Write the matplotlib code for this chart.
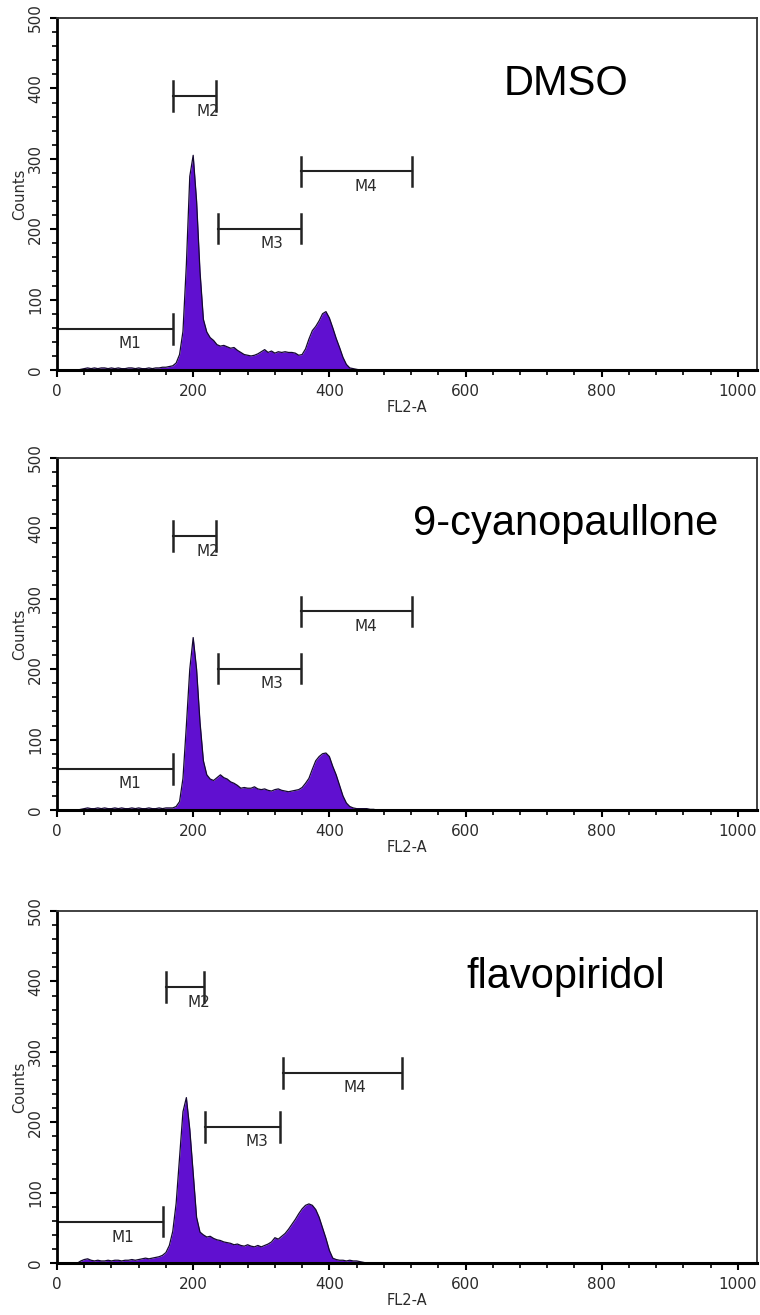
import numpy as np
import matplotlib
matplotlib.use("Agg")
import matplotlib.pyplot as plt
from matplotlib.ticker import MultipleLocator

# FL2-A channel of each value (5-channel steps)
channels = np.arange(0, 485, 5)

dmso = [0, 0, 0, 0, 0, 0, 0, 1, 2, 3, 2, 3, 2, 3, 3, 2, 3, 2, 3, 2,
        2, 3, 3, 2, 3, 2, 2, 3, 2, 3, 3, 4, 4, 5, 6, 10, 22, 55, 150, 275,
        305, 240, 140, 72, 54, 46, 42, 36, 34, 35, 33, 31, 32, 28, 25, 22, 21, 20, 21, 23,
        26, 29, 25, 27, 24, 26, 25, 26, 25, 25, 24, 21, 22, 30, 44, 56, 62, 70, 80, 83,
        74, 60, 45, 32, 18, 8, 3, 2, 1, 0, 0, 0, 0, 0, 0, 0, 0]

cyano = [0, 0, 0, 0, 0, 0, 0, 1, 2, 3, 2, 2, 3, 2, 3, 2, 2, 3, 2, 3,
         2, 2, 3, 2, 3, 2, 2, 3, 2, 2, 3, 2, 3, 3, 3, 5, 12, 45, 120, 200,
         245, 200, 125, 70, 50, 44, 42, 46, 50, 46, 44, 40, 38, 35, 31, 32, 31, 31, 33, 30,
         29, 30, 28, 27, 29, 30, 28, 27, 26, 27, 28, 29, 32, 38, 45, 58, 70, 76, 80, 81,
         76, 62, 50, 35, 20, 10, 5, 3, 2, 2, 2, 2, 1, 1, 0, 0, 0]

flavo = [0, 0, 0, 0, 0, 0, 0, 3, 5, 6, 4, 3, 4, 3, 3, 4, 3, 4, 4, 3,
         4, 4, 5, 4, 5, 6, 7, 6, 7, 8, 9, 11, 15, 25, 45, 85, 150, 215, 235, 190,
         128, 65, 44, 40, 37, 38, 35, 33, 32, 30, 29, 28, 26, 27, 25, 24, 26, 24, 23, 25,
         23, 25, 27, 30, 36, 34, 38, 42, 48, 55, 62, 70, 77, 82, 84, 82, 76, 65, 50, 35,
         18, 7, 5, 4, 4, 3, 4, 3, 3, 2, 1, 0, 0, 0, 0, 0, 0]

treatments = ["DMSO", "9-cyanopaullone", "flavopiridol"]
series = [dmso, cyano, flavo]

# marker gates per panel: start, end, bar height, label x, label y
gate_names = ["M1", "M2", "M3", "M4"]
gate_start = [[0, 170, 236, 358], [0, 170, 236, 358], [0, 160, 218, 332]]
gate_end = [[170, 233, 358, 522], [170, 233, 358, 522], [156, 216, 328, 506]]
gate_y = [[58, 389, 201, 282], [58, 389, 201, 282], [59, 392, 193, 270]]
label_x = [[107, 222, 315, 453], [107, 222, 315, 453], [97, 209, 293, 438]]
label_y = [[38, 367, 180, 260], [38, 367, 180, 260], [37, 370, 172, 249]]

fill_col = "#6010d0"
ink = "#2b2b2b"

fig = plt.figure(figsize=(7.6, 13.15), dpi=100)
bottoms = [0.7186, 0.3840, 0.0395]

for i in range(3):
    ax = fig.add_axes([0.075, bottoms[i], 0.921, 0.2677])
    ax.fill_between(channels, series[i], 0, color=fill_col, lw=0)
    ax.plot(channels, series[i], color="#140830", lw=0.9)

    for k in range(4):
        x0, x1, y = gate_start[i][k], gate_end[i][k], gate_y[i][k]
        ax.plot([x0, x1], [y, y], color="#222222", lw=1.5)
        ax.plot([x0, x0], [y - 21, y + 21], color="#222222", lw=1.8)
        ax.plot([x1, x1], [y - 21, y + 21], color="#222222", lw=1.8)
        ax.text(label_x[i][k], label_y[i][k], gate_names[k], ha="center", va="center",
                fontsize=11, color=ink)

    ax.text(747, 390, treatments[i], ha="center", va="baseline", fontsize=30,
            family=["Liberation Sans", "DejaVu Sans"], color="black")

    ax.set_xlim(0, 1028)
    ax.set_ylim(0, 500)
    ax.xaxis.set_major_locator(MultipleLocator(200))
    ax.xaxis.set_minor_locator(MultipleLocator(40))
    ax.yaxis.set_major_locator(MultipleLocator(100))
    ax.yaxis.set_minor_locator(MultipleLocator(20))
    ax.tick_params(which="major", length=5, width=1.5, direction="out", labelsize=11,
                   labelcolor=ink, pad=5)
    ax.tick_params(which="minor", length=3.5, width=1.2, direction="out")
    for lab in ax.get_yticklabels():
        lab.set_rotation(90)
        lab.set_va("center")
    ax.spines["left"].set_linewidth(2)
    ax.spines["bottom"].set_linewidth(2.2)
    ax.spines["top"].set_linewidth(1.3)
    ax.spines["right"].set_linewidth(1.3)
    ax.spines["top"].set_color("#333333")
    ax.spines["right"].set_color("#333333")
    ax.set_xlabel("FL2-A", fontsize=10.5, color=ink, labelpad=1)
    ax.set_ylabel("Counts", fontsize=10.5, color=ink, labelpad=1)

fig.savefig("out.png", dpi=100)
